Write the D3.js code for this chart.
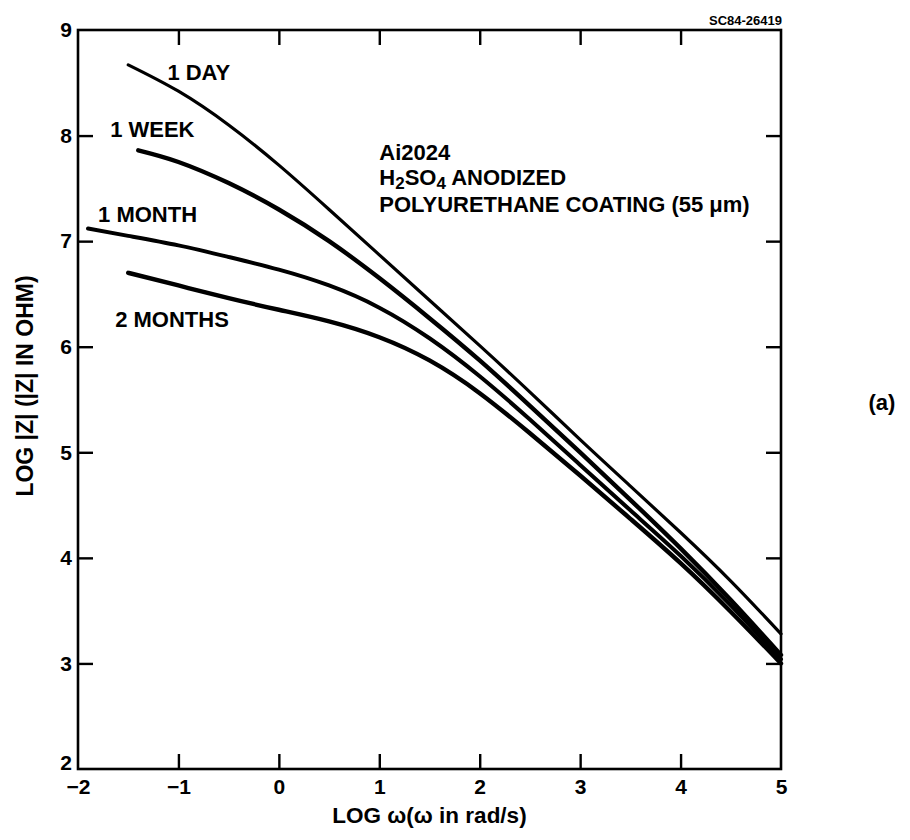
<!DOCTYPE html>
<html>
<head>
<meta charset="utf-8">
<script src="https://cdn.jsdelivr.net/npm/d3@7/dist/d3.min.js"></script>
<style>
  html, body { margin: 0; padding: 0; background: #fff; }
  svg { display: block; }
  text { font-family: "Liberation Sans", Arial, Helvetica, sans-serif; font-weight: bold; fill: #000; }
</style>
</head>
<body>
<svg id="chart" width="910" height="840"></svg>
<script>
// Impedance modulus vs. angular frequency, log-log (Al2024 anodized, PU coated)
const seriesNames = ["1 DAY", "1 WEEK", "1 MONTH", "2 MONTHS"];

const logW1Day   = [-1.5, -1.0, -0.5, 0.0, 0.5, 1.0, 1.5, 2.0, 2.5, 3.0, 3.5, 4.0, 4.5, 5.0];
const logZ1Day   = [8.67, 8.42, 8.10, 7.72, 7.30, 6.87, 6.44, 6.01, 5.57, 5.12, 4.68, 4.24, 3.78, 3.28];

const logW1Week  = [-1.4, -1.0, -0.5, 0.0, 0.5, 1.0, 1.5, 2.0, 2.5, 3.0, 3.5, 4.0, 4.5, 5.0];
const logZ1Week  = [7.86, 7.75, 7.55, 7.30, 7.00, 6.65, 6.27, 5.87, 5.44, 5.00, 4.55, 4.09, 3.60, 3.08];

const logW1Month = [-1.9, -1.5, -1.0, -0.5, 0.0, 0.5, 1.0, 1.5, 2.0, 2.5, 3.0, 3.5, 4.0, 4.5, 5.0];
const logZ1Month = [7.12, 7.05, 6.96, 6.85, 6.73, 6.58, 6.37, 6.08, 5.72, 5.31, 4.88, 4.45, 4.02, 3.55, 3.04];

const logW2Month = [-1.5, -1.0, -0.5, 0.0, 0.5, 1.0, 1.5, 2.0, 2.5, 3.0, 3.5, 4.0, 4.5, 5.0];
const logZ2Month = [6.70, 6.58, 6.46, 6.35, 6.24, 6.09, 5.87, 5.56, 5.18, 4.78, 4.37, 3.95, 3.49, 3.00];

const xTicks = [-2, -1, 0, 1, 2, 3, 4, 5];
const yTicks = [2, 3, 4, 5, 6, 7, 8, 9];

const annotationLines = ["Ai2024", "H2SO4 ANODIZED", "POLYURETHANE COATING (55 μm)"];
const figureId = "SC84-26419";
const panelTag = "(a)";

const series = [
  { name: seriesNames[0], w: logW1Day,   z: logZ1Day },
  { name: seriesNames[1], w: logW1Week,  z: logZ1Week },
  { name: seriesNames[2], w: logW1Month, z: logZ1Month },
  { name: seriesNames[3], w: logW2Month, z: logZ2Month }
];

// ---- layout ----
const svg = d3.select("#chart");
svg.append("rect").attr("width", 910).attr("height", 840).attr("fill", "#fff");

const x = d3.scaleLinear().domain([-2, 5]).range([78, 781]);
const y = d3.scaleLinear().domain([2, 9]).range([769, 30]);

const tickLen = 15;
const frameW = 2.6;

// frame
svg.append("rect")
  .attr("x", x(-2)).attr("y", y(9))
  .attr("width", x(5) - x(-2)).attr("height", y(2) - y(9))
  .attr("fill", "none").attr("stroke", "#000").attr("stroke-width", frameW);

function styleAxis(g, showLabels, size) {
  g.select(".domain").remove();
  g.selectAll(".tick line").attr("stroke", "#000").attr("stroke-width", 2.4);
  g.selectAll(".tick text").style("font-size", size + "px");
  if (!showLabels) g.selectAll(".tick text").remove();
}

// bottom axis with labels, inward ticks
const gx = svg.append("g").attr("transform", `translate(0,${y(2)})`)
  .call(d3.axisBottom(x).tickValues(xTicks).tickSizeInner(-tickLen).tickSizeOuter(0).tickPadding(10)
    .tickFormat(d3.format("d")));
styleAxis(gx, true, 21);
gx.selectAll(".tick").filter(d => d === -2 || d === 5).select("line").remove();

// top axis, ticks only
const gxt = svg.append("g").attr("transform", `translate(0,${y(9)})`)
  .call(d3.axisTop(x).tickValues(xTicks.slice(1, -1)).tickSizeInner(-tickLen).tickSizeOuter(0));
styleAxis(gxt, false, 21);

// left axis with labels, inward ticks
const gy = svg.append("g").attr("transform", `translate(${x(-2)},0)`)
  .call(d3.axisLeft(y).tickValues(yTicks).tickSizeInner(-tickLen).tickSizeOuter(0).tickPadding(6)
    .tickFormat(d3.format("d")));
styleAxis(gy, true, 21);
gy.selectAll(".tick").filter(d => d === 2 || d === 9).select("line").remove();
// lift the bottom label clear of the x-axis "−2"
gy.selectAll(".tick").filter(d => d === 2).select("text").attr("dy", "0.02em");

// right axis, ticks only
const gyr = svg.append("g").attr("transform", `translate(${x(5)},0)`)
  .call(d3.axisRight(y).tickValues(yTicks.slice(1, -1)).tickSizeInner(-tickLen).tickSizeOuter(0));
styleAxis(gyr, false, 21);

// axis titles
svg.append("text")
  .attr("x", (x(-2) + x(5)) / 2).attr("y", 823)
  .attr("text-anchor", "middle").style("font-size", "22.5px")
  .text("LOG ω(ω in rad/s)");

svg.append("text")
  .attr("transform", `translate(33,386) rotate(-90)`)
  .attr("text-anchor", "middle").style("font-size", "23px")
  .text("LOG |Z| (|Z| IN OHM)");

// curves: natural cubic spline through the read-off points
const line = d3.line()
  .x(d => x(d[0])).y(d => y(d[1]))
  .curve(d3.curveNatural);

const widths = [3.2, 4.4, 4.0, 4.4];
svg.append("g").selectAll("path")
  .data(series)
  .join("path")
  .attr("d", s => line(s.w.map((w, i) => [w, s.z[i]])))
  .attr("fill", "none")
  .attr("stroke", "#000")
  .attr("stroke-width", (s, i) => widths[i])
  .attr("stroke-linecap", "round")
  .attr("stroke-linejoin", "round");

// curve labels, anchored in data units
const labelAnchors = [[-1.11, 8.53], [-1.68, 7.99], [-1.80, 7.18], [-1.63, 6.19]];
svg.append("g").selectAll("text")
  .data(series)
  .join("text")
  .attr("x", (s, i) => x(labelAnchors[i][0]))
  .attr("y", (s, i) => y(labelAnchors[i][1]))
  .style("font-size", "22px")
  .text(s => s.name);

// specimen annotation
const ann = svg.append("g").attr("transform", `translate(${x(1)},0)`).style("font-size", "22px");
ann.append("text").attr("x", 0).attr("y", 160).text(annotationLines[0]);
const h2 = ann.append("text").attr("x", 0).attr("y", 185);
h2.append("tspan").text("H");
h2.append("tspan").attr("dy", 4).style("font-size", "17px").text("2");
h2.append("tspan").attr("dy", -4).text("SO");
h2.append("tspan").attr("dy", 4).style("font-size", "17px").text("4");
h2.append("tspan").attr("dy", -4).text(" ANODIZED");
ann.append("text").attr("x", 0).attr("y", 212).text(annotationLines[2]);

// figure id and panel tag
svg.append("text").attr("x", 782).attr("y", 25).attr("text-anchor", "end")
  .style("font-size", "13px").text(figureId);
svg.append("text").attr("x", 882).attr("y", 410).attr("text-anchor", "middle")
  .style("font-size", "22px").text(panelTag);
</script>
</body>
</html>
